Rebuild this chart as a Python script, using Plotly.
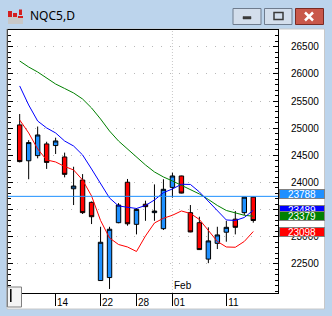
import plotly.graph_objects as go

# ---- data ----
idx = list(range(27))
opens  = [25060, 24400, 24495, 24710, 24680, 24470, 23885, 24045, 23635, 22195,
          22250, 23260, 24005, 23230, 23600, 23445, 23150, 23910, 24120, 23445,
          23260, 22590, 22880, 23085, 23325, 23445, 23730]
highs  = [25260, 24780, 25030, 24750, 24825, 24550, 24290, 24155, 23650, 23185,
          23185, 23620, 24065, 23530, 23665, 23965, 24060, 24180, 24125, 23585,
          23370, 23175, 23185, 23295, 23475, 23730, 23735]
lows   = [24370, 24060, 24445, 24250, 24525, 24095, 23585, 23420, 23235, 22190,
          22040, 23250, 23205, 23045, 23295, 23295, 23125, 23720, 23800, 23085,
          22760, 22515, 22775, 22910, 23045, 23400, 23260]
closes = [24385, 24735, 24875, 24370, 24765, 24150, 23935, 23445, 23370, 22900,
          23140, 23585, 23240, 23505, 23555, 23475, 23875, 24120, 23805, 23090,
          22765, 22925, 23035, 23175, 23175, 23730, 23300]
ma_blue  = [25777, 25427, 25132, 25004, 24912, 24764, 24672, 24507, 24249, 23973,
            23715, 23568, 23540, 23522, 23577, 23678, 23813, 23881, 23967, 23964,
            23826, 23660, 23476, 23310, 23301, 23356, 23489]
ma_green = [26237, 26126, 26034, 25915, 25813, 25731, 25648, 25537, 25372, 25169,
            24948, 24764, 24617, 24470, 24323, 24194, 24102, 24028, 23945, 23872,
            23789, 23688, 23577, 23485, 23434, 23397, 23379]
ma_red   = [25151, 24912, 24617, 24415, 24378, 24295, 24231, 24046, 23752, 23301,
            22979, 22859, 22813, 22730, 23016, 23255, 23342, 23397, 23476, 23430,
            23319, 23108, 22915, 22813, 22808, 22915, 23098]
tick_pos = [0, 4, 9, 13, 17, 23]
tick_text = ["", "14", "22", "28", "01", "11"]
price_ticks = [22500, 23000, 23500, 24000, 24500, 25000, 25500, 26000, 26500]
price_text = ["22500", "23000", "23500", "24000", "24500", "25000", "25500", "26000", "26500"]
last_line = 23745
labels = [("23788", 23788, "#1E90FF"), ("23489", 23489, "#0000FF"),
          ("23379", 23379, "#008000"), ("23098", 23098, "#FF0000")]
title = "NQC5,D"
month_label = "Feb"
month_idx = 17

W, H = 332, 316
L, R, T, B = 8, 278, 30, 293

def px(x):
    return (x - L) / (R - L)

def py(y):
    return (B - y) / (B - T)

fig = go.Figure()
fig.add_trace(go.Candlestick(
    x=idx, open=opens, high=highs, low=lows, close=closes,
    increasing=dict(fillcolor="#1E90FF", line=dict(color="black", width=1)),
    decreasing=dict(fillcolor="#FF0000", line=dict(color="black", width=1)),
    whiskerwidth=0, showlegend=False, hoverinfo="skip"))
for vals, col in [(ma_green, "#008000"), (ma_blue, "#0000FF"), (ma_red, "#FF0000")]:
    fig.add_trace(go.Scatter(x=idx, y=vals, mode="lines",
                             line=dict(color=col, width=1), showlegend=False,
                             hoverinfo="skip"))

shapes = []
# client area
shapes.append(dict(type="rect", xref="paper", yref="paper", layer="below",
                   x0=px(7), x1=px(324.5), y0=py(309), y1=py(29),
                   fillcolor="white", line=dict(color="#C8C8C8", width=1)))
shapes.append(dict(type="line", xref="paper", yref="paper", layer="above",
                   x0=px(7.2), x1=px(7.2), y0=py(307), y1=py(29),
                   line=dict(color="#6D6D6D", width=1)))
# Feb separator
shapes.append(dict(type="line", xref="x", yref="paper", layer="below",
                   x0=month_idx, x1=month_idx, y0=0, y1=1,
                   line=dict(color="#C8C8C8", width=1, dash="1px,2px")))
# last price line
shapes.append(dict(type="line", xref="paper", yref="y", layer="above",
                   x0=0, x1=1, y0=last_line, y1=last_line,
                   line=dict(color="#1E90FF", width=1)))
# bottom-left scroll box
shapes.append(dict(type="rect", xref="paper", yref="paper", layer="above",
                   x0=px(7.5), x1=px(21.5), y0=py(307), y1=py(287),
                   fillcolor="#F4F4F4", line=dict(color="#808080", width=1)))
shapes.append(dict(type="line", xref="paper", yref="paper", layer="above",
                   x0=px(10.8), x1=px(10.8), y0=py(302), y1=py(289),
                   line=dict(color="black", width=1.5)))
# title bar buttons
shapes.append(dict(type="rect", xref="paper", yref="paper", layer="above",
                   x0=px(233), x1=px(261), y0=py(24.5), y1=py(8.5),
                   fillcolor="#D3DEEC", line=dict(color="#6F7C8E", width=1)))
shapes.append(dict(type="rect", xref="paper", yref="paper", layer="above",
                   x0=px(243), x1=px(251), y0=py(19), y1=py(16.5),
                   fillcolor="#3A3A3A", line=dict(color="#3A3A3A", width=0.5)))
shapes.append(dict(type="rect", xref="paper", yref="paper", layer="above",
                   x0=px(264.5), x1=px(292), y0=py(24.5), y1=py(8.5),
                   fillcolor="#D3DEEC", line=dict(color="#6F7C8E", width=1)))
shapes.append(dict(type="rect", xref="paper", yref="paper", layer="above",
                   x0=px(274), x1=px(283), y0=py(19.5), y1=py(12.5),
                   fillcolor="rgba(0,0,0,0)", line=dict(color="#3A3A3A", width=1.5)))
shapes.append(dict(type="rect", xref="paper", yref="paper", layer="above",
                   x0=px(295.5), x1=px(323.5), y0=py(24.5), y1=py(8.5),
                   fillcolor="#C9584A", line=dict(color="#7A2A22", width=1)))
for (a, b, c, d) in [(305, 12.5, 313, 20.5), (305, 20.5, 313, 12.5)]:
    shapes.append(dict(type="line", xref="paper", yref="paper", layer="above",
                       x0=px(a), x1=px(c), y0=py(b), y1=py(d),
                       line=dict(color="white", width=2.5)))
# icon
shapes.append(dict(type="rect", xref="paper", yref="paper", layer="above",
                   x0=px(8), x1=px(23), y0=py(24), y1=py(17),
                   fillcolor="#C8C8C8", line=dict(width=0)))
for (a, b, c, d) in [(8, 11, 12, 17), (13, 13, 17, 17), (19, 9.5, 22, 15), (18, 16, 23, 18)]:
    shapes.append(dict(type="rect", xref="paper", yref="paper", layer="above",
                       x0=px(a), x1=px(c), y0=py(d), y1=py(b),
                       fillcolor="#D42020", line=dict(width=0)))

annotations = []
annotations.append(dict(xref="paper", yref="paper", x=px(28), y=py(15.5),
                        xanchor="left", yanchor="middle", showarrow=False,
                        text=title, font=dict(family="Noto Sans", size=12, color="black")))
annotations.append(dict(xref="x", yref="paper", x=month_idx, y=0, xanchor="left",
                        yanchor="bottom", xshift=0, yshift=0, showarrow=False,
                        text=month_label,
                        font=dict(family="Liberation Sans", size=10, color="black")))
for txt, val, col in labels:
    annotations.append(dict(xref="paper", yref="y", x=1, y=val, xanchor="left",
                            yanchor="middle", xshift=1, showarrow=False, text=txt,
                            width=44, height=8, align="center", bgcolor=col,
                            bordercolor="#808080", borderwidth=1, borderpad=0,
                            font=dict(family="Liberation Sans", size=10, color="white")))

fig.update_layout(
    width=W, height=H,
    margin=dict(l=L, r=W - R, t=T, b=H - B, pad=0),
    paper_bgcolor="#BCD4EC", plot_bgcolor="white",
    shapes=shapes, annotations=annotations,
    font=dict(family="Liberation Sans", size=10, color="black"),
    showlegend=False,
)
fig.update_xaxes(
    range=[-1.30, 28.75], rangeslider=dict(visible=False),
    showgrid=False, zeroline=False,
    showline=True, linecolor="black", linewidth=1, mirror=True,
    ticks="outside", ticklen=12, tickcolor="black", tickwidth=1,
    tickmode="array", tickvals=tick_pos, ticktext=tick_text,
    ticklabelshift=7, ticklabelstandoff=-12,
    tickfont=dict(family="Liberation Sans", size=10, color="black"),
)
fig.update_yaxes(
    range=[21966, 26807], side="right",
    showgrid=True, gridcolor="#B8B8B8", griddash="1px,8px", gridwidth=1,
    zeroline=False,
    showline=True, linecolor="black", linewidth=1, mirror="ticks",
    ticks="inside", ticklen=5, tickcolor="black", tickwidth=1,
    tickmode="array", tickvals=price_ticks, ticktext=price_text,
    minor=dict(dtick=100, ticks="inside", ticklen=3, tickcolor="black", showgrid=False),
    ticklabelstandoff=10,
    tickfont=dict(family="Liberation Sans", size=10, color="black"),
)

fig.write_html("out.html")
